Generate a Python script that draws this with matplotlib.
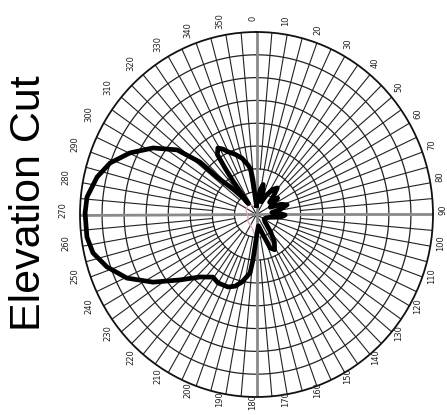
import numpy as np
import matplotlib.pyplot as plt

# elevation cut, main pattern (deg, radius in grid rings)
theta_deg = [0, 5, 9, 13, 17, 22, 27, 33, 39, 44, 48, 53, 58, 63, 68, 73, 78, 83, 87, 91,
             96, 102, 110, 120, 130, 140, 146, 152, 157, 162, 170, 178,
             182.8, 184.6, 186.5, 192.5, 197.2, 202.1, 210.2, 215.7, 223.1, 230.4,
             237.7, 244.6, 251.3, 257.2, 262.7, 270.5, 275.7, 282.8, 288.8, 295.2,
             301.9, 308.2, 311.9, 312.5, 316.3, 320.0, 322.5,
             324, 325, 326, 329, 332, 335, 340, 345, 350, 352.5, 354, 355.5, 360]
r_main = [0.4, 0.6, 1.1, 1.35, 1.0, 0.6, 0.9, 1.3, 1.5, 1.1, 0.8, 1.2, 0.85, 0.7, 1.2, 1.45, 1.1, 0.7, 1.0, 1.3,
          1.1, 0.6, 0.45, 0.4, 0.5, 1.0, 1.45, 1.75, 1.6, 0.9, 0.5, 0.8,
          1.43, 2.0, 2.58, 3.03, 3.29, 3.43, 3.47, 3.38, 3.75, 4.5,
          5.55, 6.5, 7.16, 7.6, 7.75, 7.77, 7.72, 7.41, 7.01, 6.34,
          5.52, 4.58, 3.44, 2.43, 1.55, 0.98, 0.6,
          1.8, 2.5, 3.17, 3.4, 3.25, 3.03, 2.8, 2.56, 2.2, 2.0, 1.52, 0.77, 0.4]

# second (cross) trace, small, mostly under the main one
theta2_deg = [0, 20, 40, 55, 70, 90, 110, 130, 150, 165, 180, 200, 230, 260, 290, 320, 340, 360]
r_cross = [0.3, 0.9, 1.3, 0.7, 1.4, 1.0, 0.4, 0.7, 1.6, 0.9, 1.1, 0.6, 0.5, 0.4, 0.5, 0.6, 0.4, 0.3]

angle_labels = [str(a) for a in range(0, 360, 10)]

fig = plt.figure(figsize=(4.47, 4.15), dpi=100)
ax = fig.add_axes([80 / 447, 18 / 415, 353 / 447, 365 / 415], projection='polar')
ax.set_aspect('auto')
ax.set_theta_zero_location('N')
ax.set_theta_direction(-1)
ax.set_ylim(0, 8)
ax.set_xticks([])
ax.set_yticks([])
ax.grid(False)
ax.spines['polar'].set_linewidth(1.3)
ax.spines['polar'].set_color('#111111')

gc = '#222222'
full = np.linspace(0, 2 * np.pi, 721)
for k in range(1, 8):
    ax.plot(full, np.full_like(full, k), color=gc, lw=0.9, zorder=1)

# spokes: coarse near the centre, fine further out
for a in range(0, 360, 5):
    t = np.deg2rad(a)
    ax.plot([t, t], [2, 8], color=gc, lw=0.8, zorder=1)
    if a % 10 == 0:
        ax.plot([t, t], [1, 2], color=gc, lw=0.8, zorder=1)
    if a % 30 == 0:
        ax.plot([t, t], [0, 1], color=gc, lw=0.8, zorder=1)
for a in (0, 90, 180, 270):
    t = np.deg2rad(a)
    ax.plot([t, t], [0, 8], color='#8a8a8a', lw=2.0, zorder=2)

ax.plot(np.deg2rad(theta2_deg), r_cross, color='#e8a0b0', lw=0.9, zorder=3)
ax.plot(np.deg2rad(theta_deg), r_main, color='black', lw=3.4, zorder=4,
        solid_joinstyle='round')

# angle labels round the outside
cx, cy, rx, ry = 253, 210, 190, 192
for a, lab in zip(range(0, 360, 10), angle_labels):
    t = np.deg2rad(a)
    x = cx + rx * np.sin(t)
    y = cy - ry * np.cos(t)
    fig.text(x / 447, 1 - y / 415, lab, rotation=90, fontsize=6,
             color='#222222', ha='center', va='center')

fig.text(29 / 447, 1 - 203 / 415, 'Elevation Cut', rotation=90, fontsize=31,
         family='Liberation Sans', ha='center', va='center')

fig.savefig('out.png', dpi=100)
